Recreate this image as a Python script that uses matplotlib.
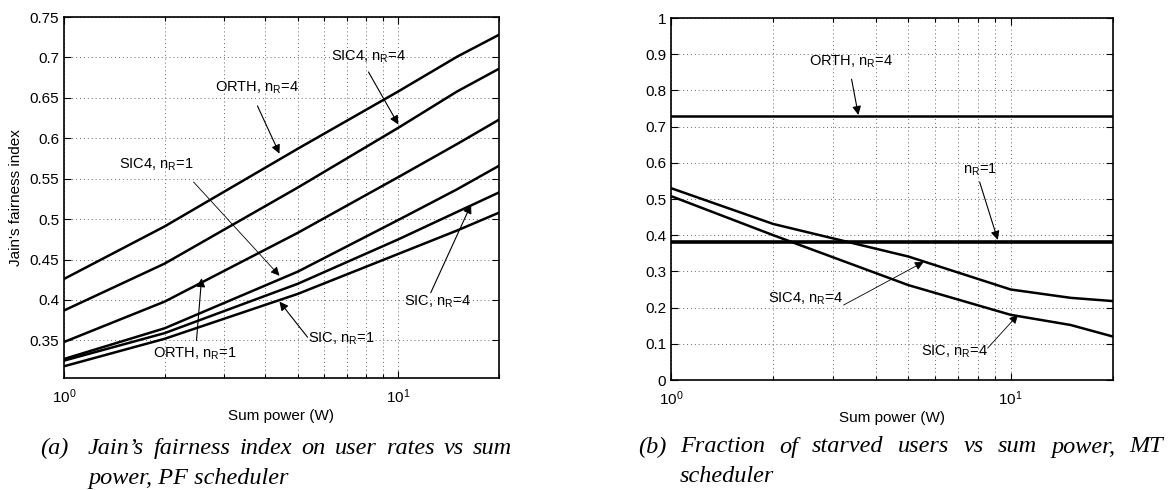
import numpy as np
import matplotlib
matplotlib.use("Agg")
import matplotlib.pyplot as plt
from matplotlib.ticker import LogLocator, NullFormatter, FixedLocator

plt.rcParams['font.family'] = ['Liberation Sans', 'DejaVu Sans']
plt.rcParams['mathtext.fontset'] = 'custom'
plt.rcParams['mathtext.rm'] = 'Liberation Sans'
plt.rcParams['mathtext.it'] = 'Liberation Sans:italic'
plt.rcParams['mathtext.bf'] = 'Liberation Sans:bold'

# ---------------- data ----------------
power = [1, 2, 5, 10, 15, 20]

# (a) Jain's fairness index, PF scheduler
jain_orth_nr4 = [0.426, 0.491, 0.587, 0.658, 0.701, 0.728]
jain_sic4_nr4 = [0.387, 0.445, 0.539, 0.613, 0.658, 0.686]
jain_orth_nr1 = [0.348, 0.398, 0.483, 0.552, 0.593, 0.623]
jain_sic4_nr1 = [0.327, 0.365, 0.435, 0.499, 0.537, 0.566]
jain_sic_nr4 = [0.325, 0.359, 0.420, 0.475, 0.509, 0.533]
jain_sic_nr1 = [0.318, 0.352, 0.4075, 0.457, 0.486, 0.508]

# (b) Fraction of starved users, MT scheduler
starved_orth_nr4 = [0.73, 0.73, 0.73, 0.73, 0.73, 0.73]
starved_nr1 = [0.38, 0.38, 0.38, 0.38, 0.38, 0.38]
starved_sic4_nr4 = [0.53, 0.431, 0.341, 0.25, 0.227, 0.218]
starved_sic_nr4 = [0.508, 0.40, 0.262, 0.18, 0.152, 0.12]

left_yticks = [0.35, 0.4, 0.45, 0.5, 0.55, 0.6, 0.65, 0.7, 0.75]
left_yticklabels = ['0.35', '0.4', '0.45', '0.5', '0.55', '0.6', '0.65', '0.7', '0.75']
right_yticks = [0, 0.1, 0.2, 0.3, 0.4, 0.5, 0.6, 0.7, 0.8, 0.9, 1]
right_yticklabels = ['0', '0.1', '0.2', '0.3', '0.4', '0.5', '0.6', '0.7', '0.8', '0.9', '1']

caption_a = ["Jain\u2019s fairness index on user rates vs sum", "power, PF scheduler"]
caption_b = ["Fraction of starved users vs sum power, MT", "scheduler"]

FS = 10.5
TFS = 11
LW = 1.8
W, H = 1173, 490

fig = plt.figure(figsize=(W/100, H/100), dpi=100)
axA = fig.add_axes([64/W, 1-378/H, (499-64)/W, (378-17)/H])
axB = fig.add_axes([671/W, 1-380/H, (1113-671)/W, (380-18)/H])


def style_axes(ax):
    ax.set_xscale('log')
    ax.set_xlim(1, 20)
    ax.xaxis.set_major_locator(FixedLocator([1, 10]))
    ax.set_xticklabels([r'$10^{0}$', r'$10^{1}$'])
    ax.xaxis.set_minor_locator(LogLocator(base=10, subs=np.arange(2, 10), numticks=20))
    ax.xaxis.set_minor_formatter(NullFormatter())
    ax.tick_params(which='both', direction='in', top=True, right=True,
                   labelsize=TFS, width=0.8)
    ax.tick_params(which='major', length=5)
    ax.tick_params(which='minor', length=3)
    ax.tick_params(axis='x', which='major', pad=7)
    ax.grid(True, which='major', axis='both', linestyle=(0, (1, 3)), color='#666666', lw=0.7)
    ax.grid(True, which='minor', axis='x', linestyle=(0, (1, 3)), color='#666666', lw=0.7)
    for s in ax.spines.values():
        s.set_linewidth(1.2)
    ax.set_axisbelow(True)
    ax.set_xlabel('Sum power (W)', fontsize=TFS, labelpad=2)


arrow_kw = dict(arrowstyle='-|>', color='black', lw=0.8, mutation_scale=13,
                shrinkA=0, shrinkB=0)


def label(ax, text, tpos, start, tip, thin=False):
    ax.text(tpos[0], tpos[1], text, fontsize=FS, ha='left', va='center')
    kw = dict(arrow_kw)
    if thin:
        kw['lw'] = 0.6
    ax.annotate('', xy=tip, xytext=start, arrowprops=kw)


# ---------------- (a) ----------------
for ys in [jain_orth_nr4, jain_sic4_nr4, jain_orth_nr1, jain_sic4_nr1, jain_sic_nr4, jain_sic_nr1]:
    axA.plot(power, ys, color='black', lw=LW)
style_axes(axA)
axA.set_ylim(0.3035, 0.75)
axA.set_yticks(left_yticks)
axA.set_yticklabels(left_yticklabels)
axA.set_ylabel("Jain's fairness index", fontsize=TFS, labelpad=5)

label(axA, r'ORTH, n$_{\mathrm{R}}$=4', (2.82, 0.662), (3.79, 0.64), (4.41, 0.581))
label(axA, r'SIC4, n$_{\mathrm{R}}$=4', (6.31, 0.701), (8.14, 0.682), (10.0, 0.617))
label(axA, r'SIC4, n$_{\mathrm{R}}$=1', (1.46, 0.567), (2.44, 0.546), (4.41, 0.43), thin=True)
label(axA, r'ORTH, n$_{\mathrm{R}}$=1', (1.84, 0.334), (2.49, 0.35), (2.58, 0.427))
label(axA, r'SIC, n$_{\mathrm{R}}$=1', (5.35, 0.352), (5.35, 0.354), (4.41, 0.398))
label(axA, r'SIC, n$_{\mathrm{R}}$=4', (10.4, 0.398), (12.5, 0.409), (16.5, 0.518))

# ---------------- (b) ----------------
axB.plot(power, starved_orth_nr4, color='black', lw=LW)
axB.plot(power, starved_nr1, color='black', lw=LW + 0.8)
axB.plot(power, starved_sic4_nr4, color='black', lw=LW)
axB.plot(power, starved_sic_nr4, color='black', lw=LW)
style_axes(axB)
axB.set_ylim(0, 1)
axB.set_yticks(right_yticks)
axB.set_yticklabels(right_yticklabels)

label(axB, r'ORTH, n$_{\mathrm{R}}$=4', (2.54, 0.878), (3.40, 0.831), (3.56, 0.732))
label(axB, r'n$_{\mathrm{R}}$=1', (7.22, 0.582), (8.1, 0.547), (9.16, 0.387))
label(axB, r'SIC4, n$_{\mathrm{R}}$=4', (1.93, 0.223), (3.22, 0.207), (5.54, 0.326), thin=True)
label(axB, r'SIC, n$_{\mathrm{R}}$=4', (5.46, 0.077), (8.55, 0.088), (10.5, 0.18), thin=True)

# ---------------- captions (justified first line) ----------------
cap_kw = dict(fontsize=17.5, family=['Liberation Serif', 'DejaVu Serif'], style='italic',
              va='center', ha='left')
renderer = fig.canvas.get_renderer()


def justified(text, x0, x1, y):
    words = text.split(' ')
    objs = [fig.text(0, 1 - y/H, w, **cap_kw) for w in words]
    widths = [o.get_window_extent(renderer).width for o in objs]
    gap = (x1 - x0 - sum(widths)) / (len(words) - 1)
    x = x0
    for o, w in zip(objs, widths):
        o.set_x(x / W)
        x += w + gap


fig.text(40/W, 1-448/H, '(a)', **cap_kw)
justified(caption_a[0], 88, 512, 448)
fig.text(88/W, 1-478/H, caption_a[1], **cap_kw)
fig.text(638/W, 1-447/H, '(b)', **cap_kw)
justified(caption_b[0], 680, 1163, 447)
fig.text(680/W, 1-476/H, caption_b[1], **cap_kw)

fig.savefig('out.png', dpi=100)
